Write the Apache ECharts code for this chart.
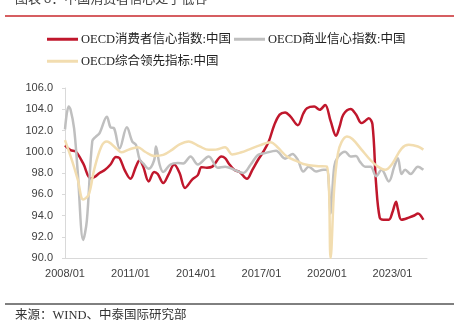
<!DOCTYPE html>
<html>
<head>
<meta charset="utf-8">
<script src="https://cdn.jsdelivr.net/npm/echarts@6/dist/echarts.min.js"></script>
<style>
  html, body { margin: 0; padding: 0; background: #fff; }
  #chart { width: 454px; height: 328px; }
</style>
</head>
<body>
<div id="chart"></div>
<script>
// Series names (legend labels)
const seriesNames = ['OECD消费者信心指数:中国', 'OECD商业信心指数:中国', 'OECD综合领先指标:中国'];

// OECD consumer confidence, China: [month, index]
const consumerConfidence = [
  ['2008-01',100.6],['2008-04',100.15],['2008-07',100.0],['2008-11',98.9],['2009-03',97.5],
  ['2009-05',97.6],['2009-08',98.0],['2009-11',98.3],['2010-02',98.8],['2010-05',99.5],
  ['2010-07',99.4],['2010-10',98.2],['2011-01',97.45],['2011-04',98.6],['2011-06',99.2],
  ['2011-08',98.6],['2011-11',97.2],['2012-02',98.1],['2012-04',97.9],['2012-07',97.05],
  ['2012-10',97.9],['2013-01',98.8],['2013-04',98.0],['2013-07',96.6],['2013-11',97.4],
  ['2014-02',97.8],['2014-04',98.55],['2014-07',98.5],['2014-10',98.6],['2015-03',99.55],
  ['2015-05',99.4],['2015-07',98.9],['2015-10',98.3],['2016-01',98.1],['2016-05',97.45],
  ['2016-08',98.3],['2016-11',99.2],['2017-02',100.0],['2017-05',100.96],['2017-08',102.5],
  ['2017-11',103.5],['2018-02',103.7],['2018-05',103.3],['2018-09',102.5],['2018-12',103.6],
  ['2019-02',104.1],['2019-06',104.25],['2019-09',103.95],['2019-12',104.4],['2020-03',102.9],
  ['2020-06',101.5],['2020-08',102.4],['2020-10',103.5],['2021-02',104.03],['2021-05',103.5],
  ['2021-08',102.7],['2021-10',102.9],['2021-12',103.15],['2022-02',102.6],['2022-04',97.0],
  ['2022-06',93.8],['2022-08',93.6],['2022-11',93.6],['2023-01',94.3],['2023-03',95.3],
  ['2023-04',94.6],['2023-06',93.6],['2023-10',93.8],['2024-01',94.0],['2024-03',94.2],
  ['2024-06',93.6]
];

// OECD business confidence, China
const businessConfidence = [
  ['2008-01',102.1],['2008-03',104.25],['2008-04',104.0],['2008-06',102.2],['2008-08',98.1],
  ['2008-11',91.7],['2009-01',93.5],['2009-04',101.0],['2009-06',101.43],['2009-08',101.75],
  ['2009-12',103.3],['2010-02',102.3],['2010-04',102.2],['2010-07',100.3],['2010-11',102.3],
  ['2011-02',100.96],['2011-04',100.65],['2011-06',99.3],['2011-08',98.9],['2011-11',98.4],
  ['2012-02',99.2],['2012-03',100.5],['2012-05',98.8],['2012-07',98.1],['2012-11',98.8],
  ['2013-03',98.93],['2013-06',98.9],['2013-10',99.55],['2014-02',98.8],['2014-08',99.55],
  ['2015-01',98.5],['2015-05',98.6],['2015-10',98.3],['2016-03',98.0],['2016-07',98.77],
  ['2016-11',99.7],['2017-03',99.87],['2017-09',100.1],['2018-02',99.35],['2018-06',99.8],
  ['2018-09',99.24],['2018-12',98.14],['2019-03',98.6],['2019-07',98.14],['2019-11',98.3],
  ['2020-01',98.3],['2020-02',97.0],['2020-03',94.2],['2020-05',98.6],['2020-07',99.5],
  ['2020-11',100.0],['2021-02',99.55],['2021-05',99.6],['2021-07',99.1],['2021-10',98.6],
  ['2022-01',98.6],['2022-04',97.7],['2022-07',98.3],['2022-11',97.2],['2023-02',98.6],
  ['2023-04',99.4],['2023-06',97.9],['2023-08',98.3],['2023-11',97.9],['2024-03',98.6],
  ['2024-06',98.3]
];

// OECD composite leading indicator, China
const leadingIndicator = [
  ['2008-01',101.1],['2008-05',99.1],['2008-08',97.4],['2008-11',95.5],['2009-02',95.95],
  ['2009-05',98.3],['2009-09',100.5],['2009-12',100.96],['2010-05',100.34],['2010-08',99.95],
  ['2010-12',100.2],['2011-05',100.43],['2011-09',100.0],['2012-02',99.6],['2012-07',99.7],
  ['2012-12',100.2],['2013-04',100.7],['2013-09',100.96],['2014-03',100.5],['2014-08',100.18],
  ['2014-12',100.2],['2015-05',100.43],['2015-09',99.75],['2016-02',99.95],['2016-06',100.2],
  ['2016-12',100.6],['2017-06',100.9],['2017-10',100.4],['2018-03',99.55],['2018-09',99.08],
  ['2018-12',98.85],['2019-07',98.65],['2020-01',98.6],['2020-03',90.0],['2020-05',96.6],
  ['2020-07',99.8],['2020-09',100.9],['2020-12',101.43],['2021-03',101.2],['2021-08',100.2],
  ['2022-01',99.2],['2022-05',98.6],['2022-09',98.3],['2023-01',98.9],['2023-06',100.3],
  ['2023-10',100.65],['2024-03',100.5],['2024-06',100.2]
];

const startYear = 2008;
const seriesColors = ['#C0172C', '#BFBFBF', '#F2DDB0'];

// month string -> months since January of the first year
function monthIndex(s) {
  const [y, m] = s.split('-').map(Number);
  return (y - startYear) * 12 + (m - 1);
}
const toPoints = arr => arr.map(([d, v]) => [monthIndex(d), v]);

const chart = echarts.init(document.getElementById('chart'), null, { renderer: 'canvas' });

const labelFont = "'Liberation Sans', Arial, sans-serif";
const legendFont = "'Liberation Serif', 'Noto Sans CJK SC', serif";
const cjkFont = "'Noto Sans CJK SC', sans-serif";

function legendAt(name, left, top) {
  return {
    data: [name], left: left, top: top, padding: 0,
    icon: 'rect', itemWidth: 31, itemHeight: 3,
    textStyle: { fontSize: 12.5, color: '#222', fontFamily: legendFont, padding: [0, 0, 0, -2] }
  };
}

chart.setOption({
  animation: false,
  backgroundColor: '#fff',
  legend: [
    legendAt(seriesNames[0], 47, 33),
    legendAt(seriesNames[1], 234, 33),
    legendAt(seriesNames[2], 47, 55)
  ],
  grid: { left: 65, right: 27, top: 88, bottom: 70, containLabel: false },
  xAxis: {
    type: 'value', min: 0, max: 199, interval: 36,
    axisLine: { show: true, lineStyle: { color: '#D9D9D9', width: 1 } },
    axisTick: { show: false },
    splitLine: { show: false },
    axisLabel: {
      margin: 10, fontSize: 11, color: '#404040', fontFamily: labelFont,
      showMaxLabel: false,
      formatter: v => (v % 12 === 0 ? (startYear + v / 12) + '/01' : '')
    }
  },
  yAxis: {
    type: 'value', min: 90, max: 106, interval: 2,
    axisLine: { show: true, lineStyle: { color: '#D9D9D9', width: 1 } },
    axisTick: { show: true, length: 3, lineStyle: { color: '#D9D9D9' } },
    splitLine: { show: false },
    axisLabel: {
      margin: 12, fontSize: 11, color: '#404040', fontFamily: labelFont,
      formatter: v => v.toFixed(1)
    }
  },
  series: [
    { name: seriesNames[0], data: toPoints(consumerConfidence), color: seriesColors[0] },
    { name: seriesNames[1], data: toPoints(businessConfidence), color: seriesColors[1] },
    { name: seriesNames[2], data: toPoints(leadingIndicator), color: seriesColors[2] }
  ].map(s => Object.assign({
    type: 'line', smooth: 0.35, showSymbol: false, symbol: 'none', clip: true,
    lineStyle: { width: 2.5, color: s.color }, itemStyle: { color: s.color }
  }, s)),
  graphic: [
    { type: 'text', left: 15, top: -8,
      style: { text: '图表 8：中国消费者信心处于低谷', fontSize: 13, fill: '#404040', fontFamily: cjkFont } },
    { type: 'line', shape: { x1: 5, y1: 16, x2: 454, y2: 16 },
      style: { stroke: '#C8282D', lineWidth: 1.3 } },
    { type: 'line', shape: { x1: 5, y1: 304, x2: 454, y2: 304 },
      style: { stroke: '#000', lineWidth: 1 } },
    { type: 'text', left: 15, top: 309,
      style: { text: '来源：WIND、中泰国际研究部', fontSize: 12.5, fill: '#333',
               fontFamily: "'Liberation Serif', 'Noto Sans CJK SC', serif" } }
  ]
});
</script>
</body>
</html>
